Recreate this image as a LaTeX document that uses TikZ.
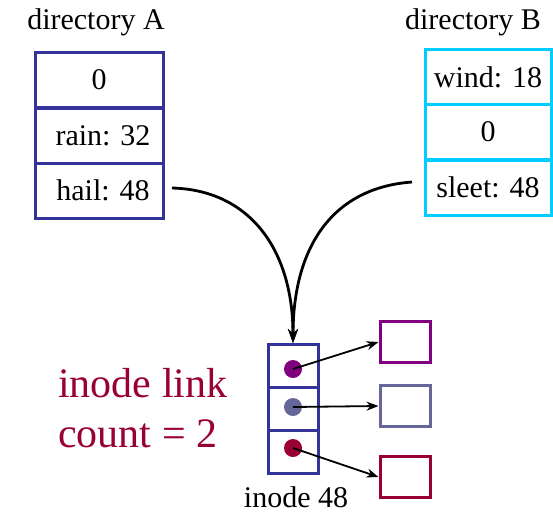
\documentclass[tikz,border=0pt]{standalone}
\usepackage{fontspec}
\setmainfont{Liberation Serif}
\usetikzlibrary{arrows.meta}
\definecolor{dirA}{HTML}{333399}
\definecolor{dirB}{HTML}{00CCFF}
\definecolor{cpurple}{HTML}{800080}
\definecolor{cslate}{HTML}{666699}
\definecolor{ccrimson}{HTML}{990033}
\tikzset{
  acell/.style={draw=dirA, line width=3pt, minimum width=128pt, minimum height=55pt, inner sep=0pt, font=\fontsize{30}{34}\selectfont},
  bcell/.style={draw=dirB, line width=3pt, minimum width=126pt, minimum height=55pt, inner sep=0pt, font=\fontsize{30}{34}\selectfont},
  icell/.style={draw=dirA, line width=3pt, minimum width=50pt, minimum height=43pt, inner sep=0pt},
  dot/.style={circle, inner sep=0pt, minimum size=18pt},
  blk/.style={line width=3pt, minimum width=50pt, minimum height=41pt, inner sep=0pt},
  lbl/.style={font=\fontsize{30}{34}\selectfont, inner sep=0pt},
  ptr/.style={-{Stealth[length=12pt,width=9pt]}, line width=1.8pt},
  link/.style={-{Stealth[length=14pt,width=10pt]}, line width=2.8pt}
}
\begin{document}
\begin{tikzpicture}[x=1pt,y=-1pt]
\useasboundingbox (0,0) rectangle (553,515);
% directory A
\node[lbl] (la) at (96,22) {directory A};
\node[acell] (a0) at (99,80) {0};
\node[acell] (a1) at (99,135.5) {\hspace{8pt}rain: 32};
\node[acell] (a2) at (99,190.5) {\hspace{8pt}hail: 48};
% directory B
\node[lbl] (lb) at (473,22) {directory B};
\node[bcell] (b0) at (488,77) {wind: 18};
\node[bcell] (b1) at (488,132) {0};
\node[bcell] (b2) at (488,187.5) {sleet: 48\hspace{5pt}};
% inode
\node[icell] (i0) at (293,366) {};
\node[icell] (i1) at (293,409) {};
\node[icell] (i2) at (293,452) {};
\node[lbl] (il) at (296,497) {inode 48};
\node[dot, fill=cpurple] (d0) at (293,369) {};
\node[dot, fill=cslate] (d1) at (293,407) {};
\node[dot, fill=ccrimson] (d2) at (293,448) {};
% data blocks
\node[blk, draw=cpurple] (k0) at (405,342) {};
\node[blk, draw=cslate] (k1) at (405,406) {};
\node[blk, draw=ccrimson] (k2) at (405,477) {};
\draw[ptr] (d0.center) -- (k0.west);
\draw[ptr] (d1.center) -- (k1.west);
\draw[ptr] (d2.center) -- (k2.west);
% links
\coordinate (sa) at (172,188);
\coordinate (sb) at (412,182);
\draw[link] (sa) .. controls (250,190) and (293,250) .. (i0.north);
\draw[link] (sb) .. controls (330,188) and (293,250) .. (i0.north);
% label
\node[anchor=west, align=left, inner sep=0pt, text=ccrimson, font=\fontsize{42}{50}\selectfont] (cnt) at (58,408) {inode link\\count = 2};
\end{tikzpicture}
\end{document}
